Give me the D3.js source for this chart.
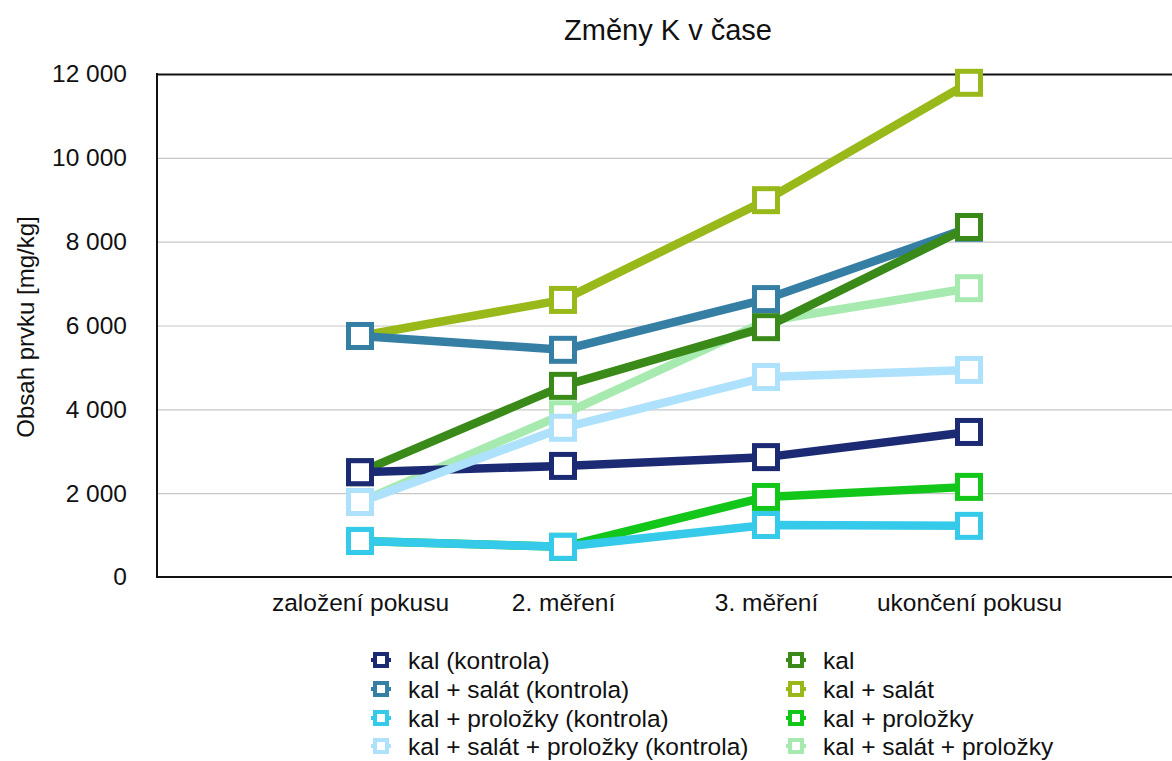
<!DOCTYPE html>
<html>
<head>
<meta charset="utf-8">
<script src="https://cdn.jsdelivr.net/npm/d3@7"></script>
<style>
  html, body { margin: 0; padding: 0; background: #fff; }
  svg { display: block; font-family: "Liberation Sans", Arial, Helvetica, sans-serif; }
</style>
</head>
<body>
<svg id="chart" width="1172" height="761"></svg>
<script>
// Measurement stages on the x axis
const categories = ["založení pokusu", "2. měření", "3. měření", "ukončení pokusu"];

// K content [mg/kg] per series
const kalKontrola              = [2500, 2650, 2860, 3460];
const kalSalatKontrola         = [5750, 5420, 6630, 8330];
const kalProlozkyKontrola      = [860, 720, 1240, 1220];
const kalSalatProlozkyKontrola = [1790, 3560, 4770, 4940];
const kal                      = [2500, 4560, 5960, 8350];
const kalSalat                 = [5750, 6610, 8990, 11790];
const kalProlozky              = [860, 720, 1910, 2150];
const kalSalatProlozky         = [1790, 3880, 6100, 6890];

const seriesNames = [
  "kal (kontrola)",
  "kal + salát (kontrola)",
  "kal + proložky (kontrola)",
  "kal + salát + proložky (kontrola)",
  "kal",
  "kal + salát",
  "kal + proložky",
  "kal + salát + proložky"
];
const seriesValues = [
  kalKontrola, kalSalatKontrola, kalProlozkyKontrola, kalSalatProlozkyKontrola,
  kal, kalSalat, kalProlozky, kalSalatProlozky
];
const seriesColors = [
  "#1b2a73", "#367fa4", "#35c9ea", "#aee1fb",
  "#3a8a19", "#98b919", "#13c61a", "#a6eab0"
];

const yTicks = [0, 2000, 4000, 6000, 8000, 10000, 12000];

const series = seriesNames.map((name, i) => ({
  name, color: seriesColors[i], values: seriesValues[i]
}));

// stacking order of the lines (bottom first)
const drawOrder = [7, 5, 6, 1, 4, 0, 2, 3];

const svg = d3.select("#chart");
const plot = { left: 157, right: 1172, top: 74, bottom: 577 };

const x = d3.scalePoint().domain(categories).range([plot.left, plot.right]).padding(1);
const y = d3.scaleLinear().domain([0, 12000]).range([plot.bottom, plot.top]);

const fmt = d3.formatLocale({ decimal: ",", thousands: "\u00a0", grouping: [3], currency: ["", ""] }).format(",");

const labelSize = 24.5;

// title
svg.append("text")
  .attr("x", 668).attr("y", 40)
  .attr("text-anchor", "middle")
  .attr("font-size", 29)
  .attr("fill", "#111")
  .text("Změny K v čase");

// y axis with gridlines
const yAxis = svg.append("g")
  .attr("transform", `translate(${plot.left},0)`)
  .call(d3.axisLeft(y).tickValues(yTicks).tickFormat(fmt)
    .tickSize(-(plot.right - plot.left)).tickPadding(30));
yAxis.select(".domain").remove();
yAxis.selectAll(".tick line")
  .attr("stroke", d => d === 12000 ? "#111" : "#c8c8c8")
  .attr("stroke-width", d => d === 12000 ? 2 : 1.2);
yAxis.selectAll(".tick text")
  .attr("font-size", labelSize)
  .attr("font-family", "Liberation Sans, Arial, sans-serif")
  .attr("fill", "#111");

// axis lines
svg.append("line")
  .attr("x1", plot.left).attr("x2", plot.left)
  .attr("y1", plot.top - 1).attr("y2", plot.bottom + 1)
  .attr("stroke", "#111").attr("stroke-width", 2);
svg.append("line")
  .attr("x1", plot.left - 1).attr("x2", plot.right)
  .attr("y1", plot.bottom).attr("y2", plot.bottom)
  .attr("stroke", "#111").attr("stroke-width", 2);

// x axis labels
const xAxis = svg.append("g")
  .attr("transform", `translate(0,${plot.bottom})`)
  .call(d3.axisBottom(x).tickSize(0).tickPadding(17));
xAxis.select(".domain").remove();
xAxis.selectAll(".tick text")
  .attr("font-size", labelSize)
  .attr("font-family", "Liberation Sans, Arial, sans-serif")
  .attr("fill", "#111");

// y axis title
svg.append("text")
  .attr("transform", `translate(34,327) rotate(-90)`)
  .attr("text-anchor", "middle")
  .attr("font-size", 24)
  .attr("fill", "#111")
  .text("Obsah prvku [mg/kg]");

// lines + square markers
const line = d3.line()
  .x((d, i) => x(categories[i]))
  .y(d => y(d));

const markerSize = 23;
drawOrder.forEach(idx => {
  const s = series[idx];
  const g = svg.append("g").attr("class", "series");
  g.append("path")
    .attr("d", line(s.values))
    .attr("fill", "none")
    .attr("stroke", s.color)
    .attr("stroke-width", 8.5)
    .attr("stroke-linejoin", "round");
  g.selectAll("rect")
    .data(s.values)
    .join("rect")
    .attr("x", (d, i) => x(categories[i]) - markerSize / 2)
    .attr("y", d => y(d) - markerSize / 2)
    .attr("width", markerSize)
    .attr("height", markerSize)
    .attr("fill", "#fff")
    .attr("stroke", s.color)
    .attr("stroke-width", 5);
});

// legend
const legendCols = [381, 796];
const legendRowY = [660, 689, 718, 746];
series.forEach((s, i) => {
  const col = Math.floor(i / 4), row = i % 4;
  const cx = legendCols[col], cy = legendRowY[row];
  const g = svg.append("g").attr("transform", `translate(${cx},${cy})`);
  g.append("line")
    .attr("x1", -10).attr("x2", 10)
    .attr("stroke", s.color).attr("stroke-width", 4);
  g.append("rect")
    .attr("x", -6).attr("y", -6)
    .attr("width", 12).attr("height", 12)
    .attr("fill", "#fff")
    .attr("stroke", s.color).attr("stroke-width", 4);
  g.append("text")
    .attr("x", 27).attr("y", 0).attr("dy", "0.35em")
    .attr("font-size", labelSize)
    .attr("fill", "#111")
    .text(s.name);
});
</script>
</body>
</html>
